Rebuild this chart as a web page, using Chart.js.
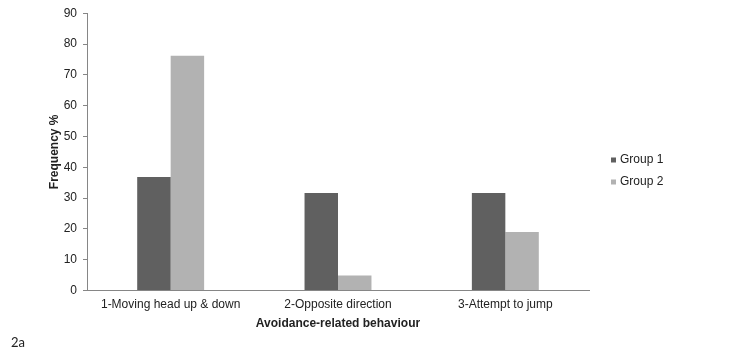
<!DOCTYPE html>
<html lang="en">
<head>
  <meta charset="UTF-8" />
  <title>Avoidance-related behaviour</title>
  <script src="https://cdn.jsdelivr.net/npm/chart.js"></script>
  <style>
    html, body { margin: 0; padding: 0; background: #fff; }
    #wrap { width: 752px; height: 361px; position: relative; }
  </style>
</head>
<body>
  <div id="wrap"><canvas id="behaviourChart"></canvas></div>

  <script>
    // values
    const categories = ['1-Moving head up & down', '2-Opposite direction', '3-Attempt to jump'];
    const seriesNames = ['Group 1', 'Group 2'];
    const group1 = [36.8, 31.6, 31.6];
    const group2 = [76.2, 4.8, 19.0];
    const yMin = 0, yMax = 90, yStep = 10;

    const colors = ['#606060', '#b2b2b2'];
    const axisGray = '#868686';
    const textColor = '#222';
    const fontFamily = "'Liberation Sans', Arial, sans-serif";

    // small legend to the right of the plot, like the original figure
    const sideLegend = {
      id: 'sideLegend',
      afterDraw(chart) {
        const ctx = chart.ctx;
        const x = chart.chartArea.right + 22;
        let y = 160;
        ctx.save();
        ctx.font = '12px ' + fontFamily;
        ctx.textBaseline = 'middle';
        chart.data.datasets.forEach(ds => {
          ctx.fillStyle = ds.backgroundColor;
          ctx.fillRect(x, y - 2.5, 5, 5);
          ctx.fillStyle = textColor;
          ctx.fillText(ds.label, x + 9, y);
          y += 22;
        });
        ctx.restore();
      }
    };

    const ctx = document.getElementById('behaviourChart').getContext('2d');
    new Chart(ctx, {
      type: 'bar',
      data: {
        labels: categories,
        datasets: [
          { label: seriesNames[0], data: group1, backgroundColor: colors[0] },
          { label: seriesNames[1], data: group2, backgroundColor: colors[1] }
        ]
      },
      options: {
        responsive: true,
        maintainAspectRatio: false,
        animation: false,
        datasets: {
          bar: { categoryPercentage: 0.4, barPercentage: 1.0 }
        },
        layout: { padding: { top: 11, right: 163, left: 11, bottom: 0 } },
        plugins: {
          legend: { display: false },
          tooltip: { enabled: false },
          title: {
            display: true,
            text: '2a',
            position: 'bottom',
            align: 'start',
            color: textColor,
            font: { family: "Lato, 'Open Sans', sans-serif", size: 13, weight: 'normal' },
            padding: { top: 4, bottom: 10 }
          }
        },
        scales: {
          x: {
            grid: { display: false, drawTicks: false },
            border: { color: axisGray, width: 1 },
            ticks: { color: textColor, font: { family: fontFamily, size: 12 }, padding: 7, maxRotation: 0 },
            title: {
              display: true,
              text: 'Avoidance-related behaviour',
              color: textColor,
              font: { family: fontFamily, size: 12, weight: 'bold' },
              padding: { top: 0, bottom: 1 }
            },
            afterFit: s => { s.height = 41; }
          },
          y: {
            min: yMin,
            max: yMax,
            grid: { drawOnChartArea: false, drawTicks: true, tickLength: 4, color: axisGray },
            border: { color: axisGray, width: 1 },
            ticks: { stepSize: yStep, color: textColor, font: { family: fontFamily, size: 12 }, padding: 6 },
            title: {
              display: true,
              text: 'Frequency %',
              color: textColor,
              font: { family: fontFamily, size: 12, weight: 'bold' },
              padding: { top: 36, bottom: 0 }
            },
            afterFit: s => { s.width = 76; }
          }
        }
      },
      plugins: [sideLegend]
    });
  </script>
</body>
</html>
